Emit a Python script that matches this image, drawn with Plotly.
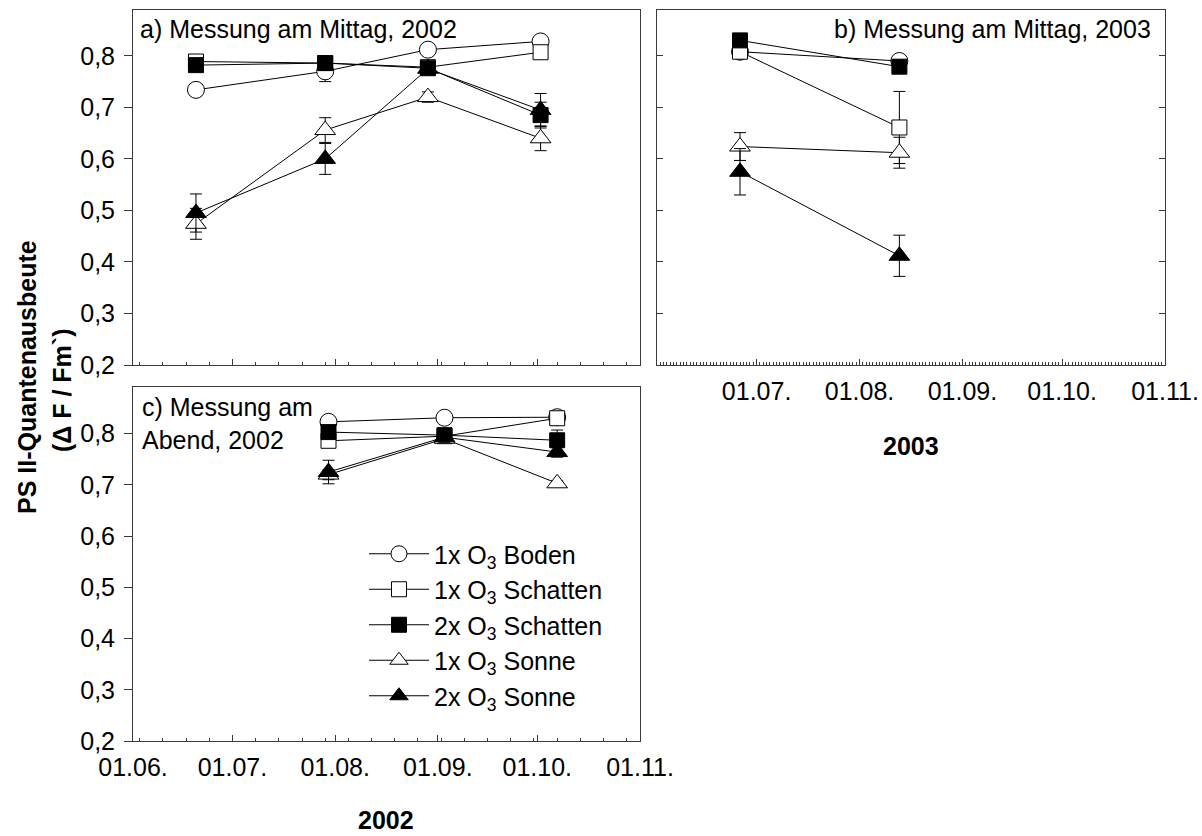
import plotly.graph_objects as go

# ---- data -------------------------------------------------------------
series_names = ["1x O<sub>3</sub> Boden", "1x O<sub>3</sub> Schatten", "2x O<sub>3</sub> Schatten",
                "1x O<sub>3</sub> Sonne", "2x O<sub>3</sub> Sonne"]
symbols = ["circle", "square", "square", "triangle-up", "triangle-up"]
fills = ["white", "white", "black", "white", "black"]
marker_sizes = [17, 15, 15, 18, 18]

# a) midday 2002
dates_a = ["2002-06-20", "2002-07-29", "2002-08-29", "2002-10-02"]
vals_a = [
    [0.734, 0.770, 0.812, 0.828],
    [0.789, 0.786, 0.778, 0.807],
    [0.782, 0.786, 0.776, 0.685],
    [0.474, 0.656, 0.720, 0.640],
    [0.495, 0.600, 0.775, 0.695],
]
err_a = [
    [0.005, 0.020, 0.005, 0.005],
    [0.010, 0.010, 0.010, 0.010],
    [0.010, 0.010, 0.010, 0.025],
    [0.030, 0.024, 0.010, 0.024],
    [0.037, 0.030, 0.010, 0.032],
]

# b) midday 2003
dates_b = ["2003-06-26", "2003-08-13"]
vals_b = [
    [0.808, 0.790],
    [0.808, 0.661],
    [0.830, 0.779],
    [0.624, 0.612],
    [0.575, 0.412],
]
err_b = [
    [0.005, 0.005],
    [0.005, 0.070],
    [0.005, 0.005],
    [0.027, 0.030],
    [0.045, 0.040],
]

# c) evening 2002
dates_c = ["2002-07-30", "2002-09-03", "2002-10-07"]
vals_c = [
    [0.823, 0.831, 0.832],
    [0.786, 0.795, 0.830],
    [0.803, 0.797, 0.787],
    [0.720, 0.790, 0.703],
    [0.725, 0.793, 0.764],
]
err_c = [
    [0.005, 0.005, 0.005],
    [0.005, 0.010, 0.005],
    [0.005, 0.005, 0.020],
    [0.010, 0.005, 0.005],
    [0.023, 0.010, 0.010],
]

month_ticks_2002 = ["2002-06-01", "2002-07-01", "2002-08-01", "2002-09-01", "2002-10-01", "2002-11-01"]
month_ticks_2003 = ["2003-06-01", "2003-07-01", "2003-08-01", "2003-09-01", "2003-10-01", "2003-11-01"]
y_ticks = [0.2, 0.3, 0.4, 0.5, 0.6, 0.7, 0.8]

# ---- layout helpers -----------------------------------------------------
W, H = 1202, 836
FONT = "Liberation Sans, Arial, sans-serif"
FS = 25
AXC = "#3a3a3a"


def px_x(p):
    return p / W


def px_y(p):
    return 1 - p / H


dom_x_left = [px_x(133), px_x(640)]
dom_x_right = [px_x(657), px_x(1165)]
dom_y_top = [px_y(365), px_y(10)]
dom_y_bottom = [px_y(741), px_y(387)]

fig = go.Figure()


def add_panel(dates, vals, errs, xa, ya, legend):
    for i in range(len(series_names)):
        fig.add_trace(go.Scatter(
            x=dates, y=vals[i], name=series_names[i],
            mode="lines+markers", xaxis=xa, yaxis=ya,
            showlegend=legend,
            line=dict(color="black", width=1),
            marker=dict(symbol=symbols[i], size=marker_sizes[i], color=fills[i],
                        line=dict(color="black", width=1)),
            error_y=dict(type="data", array=errs[i], color="black", thickness=1, width=6),
        ))


add_panel(dates_a, vals_a, err_a, "x", "y", True)
add_panel(dates_b, vals_b, err_b, "x2", "y2", False)
add_panel(dates_c, vals_c, err_c, "x3", "y3", False)

tickfont = dict(family=FONT, size=FS, color="black")
xrange02 = ["2002-06-01", "2002-11-01"]
xrange03 = ["2003-06-01", "2003-11-01"]
yr_top = [0.2, 0.889]
yr_bot = [0.2, 0.891]


def x_main(domain, rng, tickvals, show_labels, minor_dtick, minor_tick0, anchor):
    return dict(domain=domain, range=rng, anchor=anchor, type="date", automargin=False,
                tickvals=tickvals, tickformat="%d.%m.", showticklabels=show_labels,
                ticks="inside", ticklen=6, tickwidth=1, tickcolor=AXC, ticklabelstandoff=4,
                minor=dict(dtick=minor_dtick, tick0=minor_tick0, ticks="inside",
                           ticklen=3, tickcolor=AXC, tickwidth=1),
                showline=True, linecolor=AXC, linewidth=1, mirror=True,
                showgrid=False, zeroline=False, tickfont=tickfont)


def x_top(domain, rng, tickvals, overlay, anchor):
    return dict(domain=domain, range=rng, anchor=anchor, overlaying=overlay, side="top",
                type="date", tickvals=tickvals, showticklabels=False, automargin=False,
                ticks="inside", ticklen=6, tickwidth=1, tickcolor=AXC,
                showline=False, showgrid=False, zeroline=False)


def y_main(domain, rng, anchor, ticks, labels, mirror):
    return dict(domain=domain, range=rng, anchor=anchor, tickvals=y_ticks, automargin=False,
                tickformat=".1f", showticklabels=labels, ticks=ticks,
                ticklen=8 if ticks == "outside" else 6,
                tickwidth=1, tickcolor=AXC, ticklabelstandoff=4,
                showline=True, linecolor=AXC, linewidth=1, mirror=mirror,
                showgrid=False, zeroline=False, tickfont=tickfont)


def y_right(domain, rng, anchor, overlay):
    return dict(domain=domain, range=rng, anchor=anchor, overlaying=overlay, side="right",
                tickvals=y_ticks, showticklabels=False, ticks="inside", ticklen=6, automargin=False,
                tickwidth=1, tickcolor=AXC, showline=False, showgrid=False, zeroline=False)


week = 7 * 86400000
day = 86400000

fig.update_layout(
    width=W, height=H,
    margin=dict(l=0, r=0, t=0, b=0, autoexpand=False),
    paper_bgcolor="white", plot_bgcolor="white",
    separators=",.",
    font=dict(family=FONT, size=FS, color="black"),
    xaxis=x_main(dom_x_left, xrange02, month_ticks_2002, False, week, "2002-06-03", "y"),
    yaxis=y_main(dom_y_top, yr_top, "x", "outside", True, True),
    xaxis2=x_main(dom_x_right, xrange03, month_ticks_2003[1:], True, day, "2003-06-01", "y2"),
    yaxis2=y_main(dom_y_top, yr_top, "x2", "inside", False, "ticks"),
    xaxis3=x_main(dom_x_left, xrange02, month_ticks_2002, True, week, "2002-06-03", "y3"),
    yaxis3=y_main(dom_y_bottom, yr_bot, "x3", "outside", True, True),
    xaxis4=x_top(dom_x_left, xrange02, month_ticks_2002, "x", "y"),
    yaxis4=y_right(dom_y_top, yr_top, "x", "y"),
    xaxis5=x_top(dom_x_right, xrange03, month_ticks_2003, "x2", "y2"),
    xaxis6=x_top(dom_x_left, xrange02, month_ticks_2002, "x3", "y3"),
    yaxis6=y_right(dom_y_bottom, yr_bot, "x3", "y3"),
    legend=dict(x=px_x(364), y=px_y(531), xanchor="left", yanchor="top",
                bgcolor="rgba(0,0,0,0)", font=dict(family=FONT, size=FS),
                tracegroupgap=0, itemwidth=60),
    showlegend=True,
)

ann_font = dict(family=FONT, size=FS, color="black")
annotations = [
    dict(text="a) Messung am Mittag, 2002", x=px_x(138), y=px_y(13), xanchor="left", yanchor="top",
         xref="paper", yref="paper", showarrow=False, font=ann_font),
    dict(text="b) Messung am Mittag, 2003", x=px_x(1153), y=px_y(13), xanchor="right", yanchor="top",
         xref="paper", yref="paper", showarrow=False, font=ann_font),
    dict(text="c) Messung am<br>Abend, 2002", x=px_x(140), y=px_y(391), xanchor="left", yanchor="top",
         xref="paper", yref="paper", showarrow=False, font=ann_font, align="left"),
    dict(text="<b>2002</b>", x=px_x(386), y=px_y(820), xanchor="center", yanchor="middle",
         xref="paper", yref="paper", showarrow=False, font=ann_font),
    dict(text="<b>2003</b>", x=px_x(911), y=px_y(446), xanchor="center", yanchor="middle",
         xref="paper", yref="paper", showarrow=False, font=ann_font),
    dict(text="<b>PS II-Quantenausbeute</b>", x=px_x(27), y=px_y(377), xanchor="center", yanchor="middle",
         xref="paper", yref="paper", showarrow=False, font=ann_font, textangle=-90),
    dict(text="<b>(Δ F / Fm`)</b>", x=px_x(62), y=px_y(390), xanchor="center", yanchor="middle",
         xref="paper", yref="paper", showarrow=False, font=ann_font, textangle=-90),
]
fig.update_layout(annotations=annotations)

fig.write_html("out.html")
